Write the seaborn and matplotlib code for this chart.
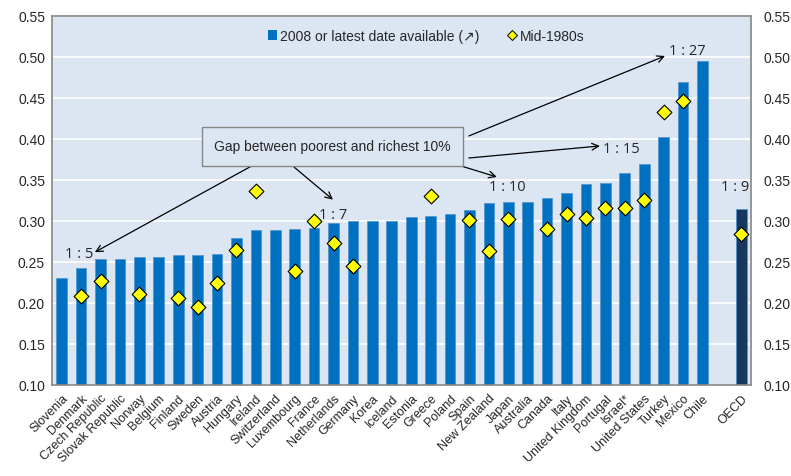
import matplotlib
matplotlib.use("Agg")
import matplotlib.pyplot as plt
from matplotlib.lines import Line2D
from matplotlib.patches import Patch
from matplotlib.ticker import FixedLocator
import seaborn as sns
import pandas as pd
import numpy as np

# Dados (coeficiente de Gini)
countries = ["Slovenia", "Denmark", "Czech Republic", "Slovak Republic", "Norway",
             "Belgium", "Finland", "Sweden", "Austria", "Hungary", "Ireland",
             "Switzerland", "Luxembourg", "France", "Netherlands", "Germany",
             "Korea", "Iceland", "Estonia", "Greece", "Poland", "Spain",
             "New Zealand", "Japan", "Australia", "Canada", "Italy",
             "United Kingdom", "Portugal", "Israel*", "United States", "Turkey",
             "Mexico", "Chile", "OECD"]
gini_2008 = [0.230, 0.243, 0.254, 0.254, 0.256, 0.256, 0.258, 0.259, 0.260, 0.279,
             0.289, 0.289, 0.290, 0.292, 0.297, 0.300, 0.300, 0.300, 0.305, 0.306,
             0.309, 0.313, 0.322, 0.323, 0.323, 0.328, 0.334, 0.345, 0.346, 0.359,
             0.370, 0.403, 0.469, 0.495, 0.315]
gini_1985 = [np.nan, 0.209, 0.227, np.nan, 0.211, np.nan, 0.206, 0.195, 0.224, 0.265,
             0.337, np.nan, 0.239, 0.300, 0.273, 0.245, np.nan, np.nan, np.nan, 0.330,
             np.nan, 0.301, 0.263, 0.303, np.nan, 0.290, 0.309, 0.304, 0.316, 0.316,
             0.325, 0.433, 0.446, np.nan, 0.284]
order = countries[:-1] + [""] + ["OECD"]

bar_blue = "#0070C0"
oecd_blue = "#17375E"
bg = "#DCE6F2"
frame = "#868686"

df = pd.DataFrame({"country": countries, "gini2008": gini_2008, "gini1985": gini_1985})
palette = {c: (oecd_blue if c == "OECD" else bar_blue) for c in countries}

sns.set_theme(style="white")
plt.rcParams["font.family"] = ["Liberation Sans", "DejaVu Sans"]

fig = plt.figure(figsize=(7.91, 4.77), dpi=100)
ax = fig.add_axes([0.0657, 0.1908, 0.8837, 0.7736])
ax.set_facecolor(bg)

sns.barplot(data=df, x="country", y="gini2008", hue="country", order=order,
            palette=palette, width=0.55, saturation=1, legend=False, ax=ax, zorder=2,
            edgecolor="#4F93D0", linewidth=0.5)
sns.stripplot(data=df, x="country", y="gini1985", order=order, jitter=False,
              marker="D", color="#FFFF00", edgecolor="black", linewidth=0.8,
              size=7.5, ax=ax, zorder=4)

ax.set_ylim(0.10, 0.55)
ax.set_xlim(-0.5, len(order) - 0.5)
yt = np.arange(0.10, 0.5501, 0.05)
ax.set_yticks(yt)
ax.set_yticklabels([f"{v:.2f}" for v in yt], fontsize=10)
ax.yaxis.grid(True, color="white", linewidth=1.2, zorder=0)
ax.set_axisbelow(True)
ax.tick_params(axis="y", length=0, pad=5)

ax.set_xticks(range(len(order)))
ax.set_xticklabels(order, rotation=45, ha="right", rotation_mode="anchor", fontsize=9)
ax.tick_params(axis="x", which="major", length=0, pad=5)
ax.xaxis.set_minor_locator(FixedLocator(np.arange(-0.5, len(order), 1.0)))
ax.tick_params(axis="x", which="minor", length=3, color=frame, width=0.8, direction="out")
ax.set_xlabel("")
ax.set_ylabel("")
for s in ax.spines.values():
    s.set_visible(True)
    s.set_color(frame)
    s.set_linewidth(1.2)

ax2 = ax.twinx()
ax2.set_ylim(ax.get_ylim())
ax2.set_yticks(yt)
ax2.set_yticklabels([f"{v:.2f}" for v in yt], fontsize=10)
ax2.tick_params(axis="y", length=0, pad=9)
for s in ax2.spines.values():
    s.set_visible(False)

# Legenda
handles = [Patch(facecolor=bar_blue, edgecolor="none"),
           Line2D([], [], marker="D", linestyle="none", markerfacecolor="#FFFF00",
                  markeredgecolor="black", markersize=5.5, markeredgewidth=0.7)]
ax.legend(handles, ["2008 or latest date available (\u2197)", "Mid-1980s"],
          loc="center", bbox_to_anchor=(0.535, 0.946), ncol=2, frameon=False,
          fontsize=10, handlelength=0.7, handleheight=0.7, handletextpad=0.2,
          columnspacing=2.0)

# Caixa explicativa e setas
ax.text(13.94, 0.391, "Gap between poorest and richest 10%", fontsize=10,
        ha="center", va="center", zorder=6,
        bbox=dict(boxstyle="square,pad=0.9", facecolor=bg, edgecolor=frame, linewidth=1))

arrow = dict(arrowstyle="->", color="black", lw=0.9, shrinkA=0, shrinkB=0)
lab = dict(fontsize=10.5, color="#262626", family=["Open Sans", "DejaVu Sans"], zorder=6)
ax.annotate("", xy=(1.71, 0.262), xytext=(10.06, 0.3707), arrowprops=arrow, zorder=5)
ax.annotate("", xy=(13.97, 0.326), xytext=(11.96, 0.3659), arrowprops=arrow, zorder=5)
ax.annotate("", xy=(22.41, 0.3537), xytext=(19.89, 0.372), arrowprops=arrow, zorder=5)
ax.annotate("", xy=(27.72, 0.3915), xytext=(20.97, 0.3768), arrowprops=arrow, zorder=5)
ax.annotate("", xy=(31.07, 0.5012), xytext=(20.97, 0.4037), arrowprops=arrow, zorder=5)

ax.text(1.61, 0.260, "1 : 5", ha="right", va="center", **lab)
ax.text(14.0, 0.3085, "1 : 7", ha="center", va="center", **lab)
ax.text(22.93, 0.3415, "1 : 10", ha="center", va="center", **lab)
ax.text(27.87, 0.389, "1 : 15", ha="left", va="center", **lab)
ax.text(31.27, 0.5073, "1 : 27", ha="left", va="center", **lab)
ax.text(34.66, 0.3415, "1 : 9", ha="center", va="center", **lab)

fig.savefig("out.png", dpi=100)
